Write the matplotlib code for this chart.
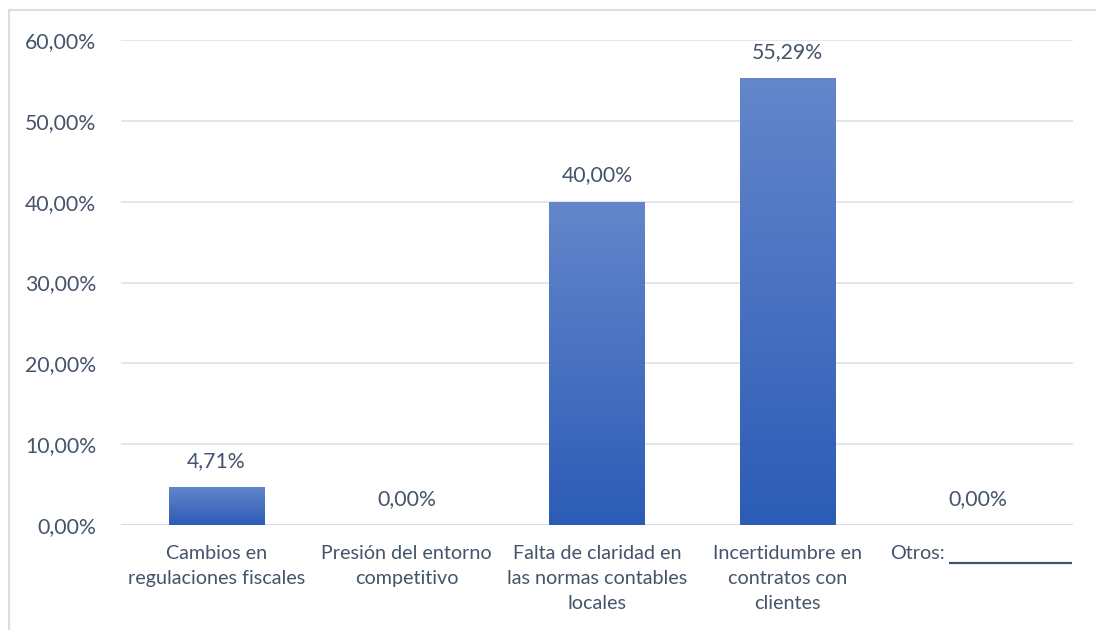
import numpy as np
import matplotlib.pyplot as plt
import matplotlib.transforms as mtransforms
from matplotlib.colors import LinearSegmentedColormap
from matplotlib.lines import Line2D

categories = ["Cambios en\nregulaciones fiscales",
              "Presión del entorno\ncompetitivo",
              "Falta de claridad en\nlas normas contables\nlocales",
              "Incertidumbre en\ncontratos con\nclientes",
              "Otros:"]
values = [4.71, 0.00, 40.00, 55.29, 0.00]
yticks = [0, 10, 20, 30, 40, 50, 60]

text_color = "#44546A"
grid_color = "#E1E5EB"

plt.rcParams['font.family'] = ['Lato', 'DejaVu Sans']

fig = plt.figure(figsize=(10.96, 6.30), dpi=100)
ax = fig.add_axes([121/1096, 1 - 525/630, 952/1096, 485/630])

x = np.arange(len(categories))
bars = ax.bar(x, values, width=0.5, color="none", zorder=3)

# vertical gradient fill, lighter at the top
cmap = LinearSegmentedColormap.from_list("bar", ["#2C5CB6", "#6486CB"])
grad = np.linspace(0, 1, 256).reshape(-1, 1)
for b in bars:
    h = b.get_height()
    if h <= 0:
        continue
    x0 = b.get_x()
    im = ax.imshow(grad, cmap=cmap, origin="lower", aspect="auto",
                   extent=[x0, x0 + b.get_width(), 0, h], zorder=3)
    im.set_clip_path(b)

for xi, v in zip(x, values):
    ax.text(xi, v + 2.0, f"{v:.2f}%".replace(".", ","), ha="center",
            va="bottom", fontsize=15.3, color=text_color)

ax.set_xlim(-0.5, len(categories) - 0.5)
ax.set_ylim(0, 60)
ax.set_yticks(yticks)
ax.set_yticklabels([f"{t:.2f}%".replace(".", ",") for t in yticks],
                   fontsize=15.3, color=text_color)
ax.set_xticks(x[:-1])
ax.set_xticklabels(categories[:-1], fontsize=14.2, color=text_color,
                   linespacing=1.57)
ax.tick_params(axis="both", length=0)
ax.tick_params(axis="x", pad=14.5)
ax.tick_params(axis="y", pad=18)
ax.grid(axis="y", color=grid_color, linewidth=1.3, zorder=0)
ax.set_axisbelow(True)
for s in ax.spines.values():
    s.set_visible(False)
ax.axhline(0, color="#D9DDE3", linewidth=1.3, zorder=2)

# "Otros:" label followed by a blank line to fill in
xt = ax.get_xaxis_transform()
ax.text(x[-1] - 0.175, 0, categories[-1], transform=xt + mtransforms.ScaledTranslation(0, -14.5/72, fig.dpi_scale_trans),
        ha="right", va="top", fontsize=14.2, color=text_color)
ax.plot([x[-1] - 0.15, x[-1] + 0.495], [-0.079, -0.079], color=text_color,
        lw=1.6, transform=xt, clip_on=False, solid_capstyle="butt")

# light outer frame
fig.add_artist(Line2D([9/1096, 9/1096], [0, 1 - 10/630], color="#D9DEE5", lw=1.5))
fig.add_artist(Line2D([9/1096, 1], [1 - 10/630, 1 - 10/630], color="#D9DEE5", lw=1.5))

fig.savefig("out.png", dpi=100)
